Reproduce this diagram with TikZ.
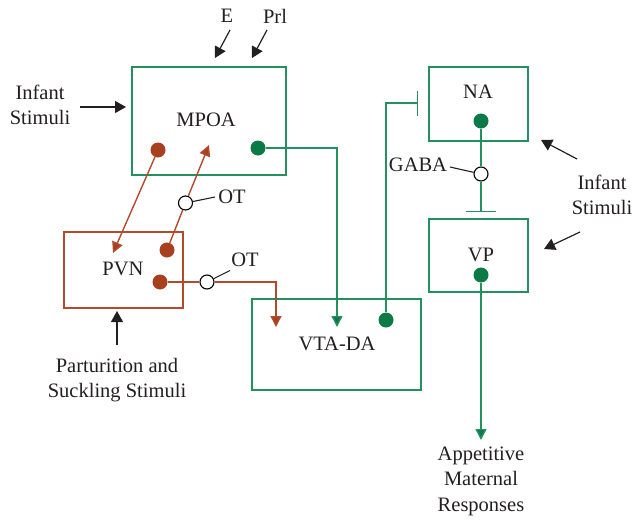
\documentclass[tikz,border=0pt]{standalone}
\usepackage{fontspec}
\setmainfont{Liberation Serif}
\usetikzlibrary{arrows.meta}
\definecolor{gline}{HTML}{24905E}
\definecolor{gdotc}{HTML}{0B7A47}
\definecolor{rline}{HTML}{B24A2E}
\definecolor{rdotc}{HTML}{A8401F}
\definecolor{txt}{HTML}{231F20}
\begin{document}
\begin{tikzpicture}[x=1pt,y=-1pt,
  lbl/.style={text=txt, font=\fontsize{20.5}{20.5}\selectfont, inner sep=0pt},
  gbox/.style={draw=gline, line width=1.4pt, inner sep=0pt},
  rbox/.style={draw=rline, line width=1.4pt, inner sep=0pt},
  gdot/.style={circle, fill=gdotc, minimum size=15pt, inner sep=0pt},
  rdot/.style={circle, fill=rdotc, minimum size=15pt, inner sep=0pt},
  ocirc/.style={circle, draw=black, fill=white, line width=1.1pt, minimum size=14pt, inner sep=0pt},
  gconn/.style={draw=gline, line width=1.4pt},
  rconn/.style={draw=rline, line width=1.4pt},
  garrow/.style={gconn, -{Triangle[length=11pt,width=11pt,fill=gdotc]}},
  rarrow/.style={rconn, -{Triangle[length=11pt,width=11pt,fill=rdotc]}},
  karrow/.style={draw=txt, line width=1.2pt, -{Triangle[length=11pt,width=12pt]}},
  leader/.style={draw=txt, line width=1.1pt}
]
\useasboundingbox (0,0) rectangle (637,520);

% boxes
\node[gbox, minimum width=154pt, minimum height=108pt] (mpoa) at (209,121) {};
\node[rbox, minimum width=119pt, minimum height=76pt] (pvn) at (123.5,270) {};
\node[gbox, minimum width=169pt, minimum height=91pt] (vta) at (336.5,344.5) {};
\node[gbox, minimum width=99pt, minimum height=74pt] (na) at (478.5,104) {};
\node[gbox, minimum width=99pt, minimum height=73pt] (vp) at (478.5,255.5) {};

% box labels
\node[lbl] (mpoal) at (206,120) {MPOA};
\node[lbl] (pvnl) at (123,269) {PVN};
\node[lbl] (vtal) at (337,344) {VTA-DA};
\node[lbl] (nal) at (478,92) {NA};
\node[lbl] (vpl) at (481,255) {VP};

% dots
\node[rdot] (mpoar) at (158,150) {};
\node[gdot] (mpoag) at (258,148) {};
\node[rdot] (pvnr1) at (167,250) {};
\node[rdot] (pvnr2) at (160,282) {};
\node[gdot] (vtag) at (386,320) {};
\node[gdot] (nag) at (481,121) {};
\node[gdot] (vpg) at (481,275) {};

% free ends
\coordinate (pvntip) at (113,253);
\coordinate (mpoatip) at (209,145);
\coordinate (vtared) at (276,327);
\coordinate (vtagreen) at (337,327);
\coordinate (nabar) at (418,103);
\coordinate (vpbar) at (481,212);
\coordinate (resp) at (481,440);

% OT / GABA circles
\node[ocirc] (ot1) at (185.5,203) {};
\node[ocirc] (ot2) at (207,282) {};
\node[ocirc] (gaba) at (481,174) {};

% red connectors
\draw[rarrow] (mpoar) -- (pvntip);
\draw[rconn] (pvnr1) -- (ot1);
\draw[rarrow] (ot1) -- (mpoatip);
\draw[rconn] (pvnr2) -- (ot2);
\draw[rarrow] (ot2) -| (vtared);

% green connectors
\draw[garrow] (mpoag) -| (vtagreen);
\draw[gconn, -{Bar[width=25pt,line width=1.4pt]}] (vtag) |- (nabar);
\draw[gconn] (nag) -- (gaba);
\draw[gconn, -{Bar[width=30pt,line width=1.4pt]}] (gaba) -- (vpbar);
\draw[garrow] (vpg) -- (resp);

% OT / GABA labels
\node[lbl] (ot1l) at (232,197) {OT};
\node[lbl] (ot2l) at (245,260) {OT};
\node[lbl] (gabal) at (418,165) {GABA};
\draw[leader] (ot1) -- (215,197);
\draw[leader] (ot2) -- (230,270.5);
\draw[leader] (gaba) -- (450,167);

% external inputs
\node[lbl] (e) at (227,16) {E};
\node[lbl] (prl) at (275,16) {Prl};
\coordinate (etail) at (230,30);
\coordinate (ehead) at (215,58);
\coordinate (prltail) at (267,30);
\coordinate (prlhead) at (252,58);
\draw[karrow] (etail) -- (ehead);
\draw[karrow] (prltail) -- (prlhead);

\node[lbl, align=center] (infl) at (40,105) {Infant\\[5pt]Stimuli};
\coordinate (infltail) at (80,107);
\coordinate (inflhead) at (126,107);
\draw[karrow] (infltail) -- (inflhead);

\node[lbl, align=center] (infr) at (602,195) {Infant\\[5pt]Stimuli};
\coordinate (infr1t) at (577,159);
\coordinate (infr1h) at (541,140);
\coordinate (infr2t) at (580,232);
\coordinate (infr2h) at (544,249);
\draw[karrow] (infr1t) -- (infr1h);
\draw[karrow] (infr2t) -- (infr2h);

\node[lbl, align=center] (part) at (117,380) {Parturition and\\[5pt]Suckling Stimuli};
\coordinate (parttail) at (117,345);
\coordinate (parthead) at (117,311);
\draw[karrow] (parttail) -- (parthead);

\node[lbl, align=center] (appl) at (481,481) {Appetitive\\[5pt]Maternal\\[5pt]Responses};
\end{tikzpicture}
\end{document}
